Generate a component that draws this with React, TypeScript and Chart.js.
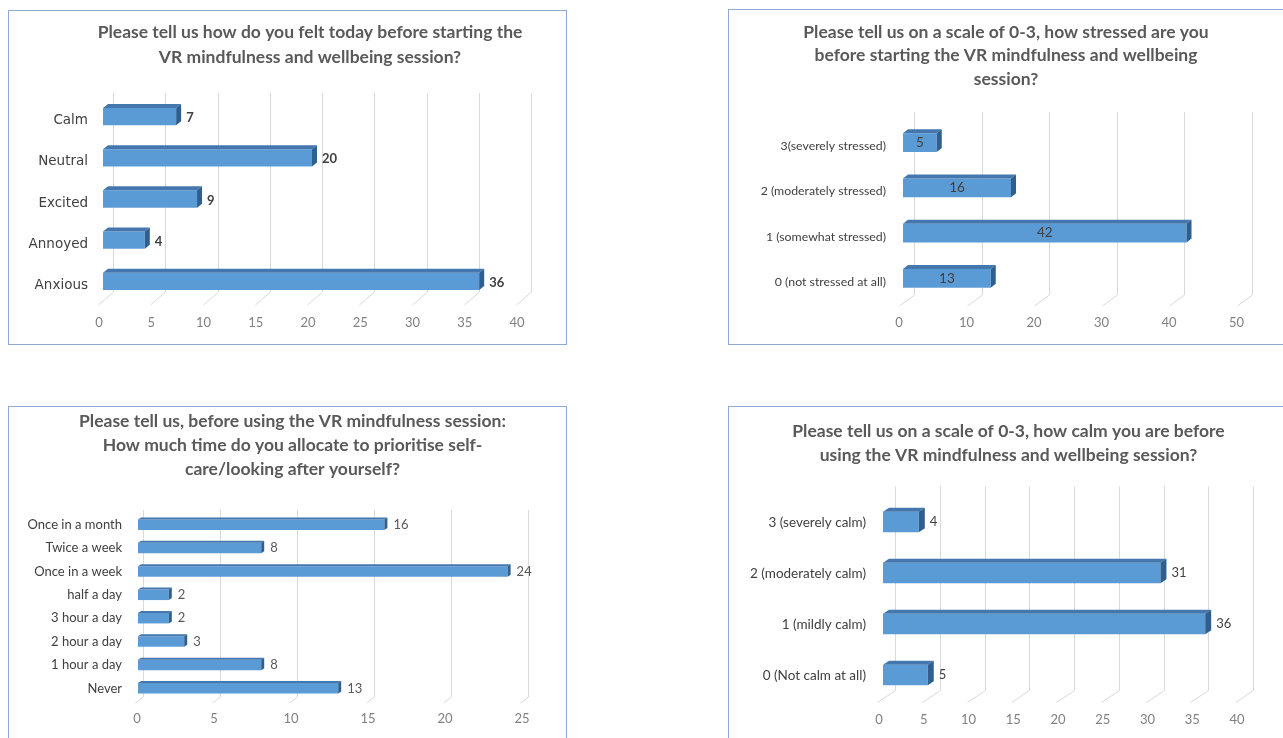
import React, { useEffect, useRef } from 'react';
import { Chart, registerables } from 'chart.js';

Chart.register(...registerables);

const FONT = 'Lato, "Noto Sans", sans-serif';
const WIDE_FONT = '"DejaVu Sans", Lato, sans-serif';

// ---------- Chart 1 data ----------
const feelTitle = ['Please tell us how do you felt today before starting the', 'VR mindfulness and wellbeing session?'];
const feelCategories = ['Calm', 'Neutral', 'Excited', 'Annoyed', 'Anxious'];
const feelValues = [7, 20, 9, 4, 36];
const feelAxisMax = 40;
const feelAxisStep = 5;

// ---------- Chart 2 data ----------
const stressTitle = ['Please tell us on a scale of 0-3, how stressed are you', 'before starting the VR mindfulness and wellbeing', 'session?'];
const stressCategories = ['3(severely stressed)', '2 (moderately stressed)', '1 (somewhat stressed)', '0 (not stressed at all)'];
const stressValues = [5, 16, 42, 13];
const stressAxisMax = 50;
const stressAxisStep = 10;

// ---------- Chart 3 data ----------
const careTitle = ['Please tell us, before using the VR mindfulness session:', 'How much time do you allocate to prioritise self-', 'care/looking after yourself?'];
const careCategories = ['Once in a month', 'Twice a week', 'Once in a week', 'half a day', '3 hour a day', '2 hour a day', '1 hour a day', 'Never'];
const careValues = [16, 8, 24, 2, 2, 3, 8, 13];
const careAxisMax = 25;
const careAxisStep = 5;

// ---------- Chart 4 data ----------
const calmTitle = ['Please tell us on a scale of 0-3, how calm you are before', 'using the VR mindfulness and wellbeing session?'];
const calmCategories = ['3 (severely calm)', '2 (moderately calm)', '1 (mildly calm)', '0 (Not calm at all)'];
const calmValues = [4, 31, 36, 5];
const calmAxisMax = 40;
const calmAxisStep = 5;

type Spec = {
  title: string[];
  labels: string[];
  values: number[];
  max: number;
  step: number;
  box: { left: number; top: number; width: number; height: number; b: [number, number, number, number] };
  area: { left: number; right: number; top: number; bottom: number };
  titleX: number;
  titleY: number;
  titleLine: number;
  catFont: string;
  catSize: number;
  catPad: number;
  catOffset: number;
  tickPad: number;
  tickShift: number;
  barPct: number;
  depth: { dx: number; dy: number };
  grid: { fx: number; fy: number; bx: number; by: number; top: number };
  label: { inside: boolean; size: number; bold: boolean; color: string; gap: number; dy: number };
};

const specs: Spec[] = [
  {
    title: feelTitle, labels: feelCategories, values: feelValues, max: feelAxisMax, step: feelAxisStep,
    box: { left: 8, top: 10, width: 559, height: 335, b: [1, 1, 1, 1] },
    area: { left: 103, right: 521, top: 96, bottom: 302 },
    titleX: 310, titleY: 32, titleLine: 25,
    catFont: WIDE_FONT, catSize: 13.5, catPad: 15, catOffset: 4, tickPad: 13, tickShift: -4, barPct: 0.42,
    depth: { dx: 5, dy: 4 },
    grid: { fx: 5, fy: 3, bx: 10, by: 10, top: 3 },
    label: { inside: false, size: 13, bold: true, color: '#404040', gap: 5, dy: 1.5 },
  },
  {
    title: stressTitle, labels: stressCategories, values: stressValues, max: stressAxisMax, step: stressAxisStep,
    box: { left: 728, top: 9, width: 555, height: 336, b: [1, 0, 1, 1] },
    area: { left: 903, right: 1240.5, top: 120, bottom: 301 },
    titleX: 1006, titleY: 32, titleLine: 23.5,
    catFont: FONT, catSize: 12.3, catPad: 17, catOffset: 3.5, tickPad: 14, tickShift: -4, barPct: 0.41,
    depth: { dx: 5, dy: 4 },
    grid: { fx: 4, fy: 5, bx: 11, by: 6, top: 8 },
    label: { inside: true, size: 13.5, bold: false, color: '#404040', gap: 0, dy: 0 },
  },
  {
    title: careTitle, labels: careCategories, values: careValues, max: careAxisMax, step: careAxisStep,
    box: { left: 8, top: 406, width: 559, height: 332, b: [1, 1, 0, 1] },
    area: { left: 138, right: 523, top: 513, bottom: 700 },
    titleX: 292.5, titleY: 421, titleLine: 24,
    catFont: FONT, catSize: 13, catPad: 16, catOffset: 0, tickPad: 11, tickShift: -1, barPct: 0.45,
    depth: { dx: 3, dy: 2 },
    grid: { fx: 3, fy: 3, bx: 5, by: 3, top: 3 },
    label: { inside: false, size: 13, bold: false, color: '#595959', gap: 6, dy: 0 },
  },
  {
    title: calmTitle, labels: calmCategories, values: calmValues, max: calmAxisMax, step: calmAxisStep,
    box: { left: 728, top: 406, width: 555, height: 332, b: [1, 0, 0, 1] },
    area: { left: 883, right: 1241, top: 496.5, bottom: 700.5 },
    titleX: 1008.5, titleY: 431, titleLine: 24,
    catFont: FONT, catSize: 13.5, catPad: 17, catOffset: 1, tickPad: 12, tickShift: -4, barPct: 0.4,
    depth: { dx: 6, dy: 4 },
    grid: { fx: 6, fy: 2, bx: 12, by: 10, top: 10 },
    label: { inside: false, size: 13, bold: false, color: '#404040', gap: 5, dy: 0 },
  },
];

function make3dPlugin(spec: Spec, titleCx: number) {
  return {
    id: 'bar3d',
    afterLayout(chart: any) {
      const tb = chart.titleBlock;
      if (tb) {
        const w = tb.right - tb.left;
        tb.left = titleCx - w / 2;
        tb.right = titleCx + w / 2;
      }
    },
    beforeDatasetsDraw(chart: any) {
      const { ctx, chartArea } = chart;
      const xs = chart.scales.x;
      const g = spec.grid;
      ctx.save();
      ctx.strokeStyle = '#D9D9D9';
      ctx.lineWidth = 1;
      xs.ticks.forEach((t: any) => {
        const px = Math.round(xs.getPixelForValue(t.value)) + 0.5;
        ctx.beginPath();
        ctx.moveTo(px - g.fx, chartArea.bottom + g.fy);
        ctx.lineTo(px + g.bx, chartArea.bottom - g.by);
        ctx.lineTo(px + g.bx, chartArea.top - g.top);
        ctx.stroke();
      });
      ctx.restore();
    },
    afterDatasetsDraw(chart: any) {
      const { ctx } = chart;
      const meta = chart.getDatasetMeta(0);
      const vals = chart.data.datasets[0].data as number[];
      const { dx, dy } = spec.depth;
      ctx.save();
      meta.data.forEach((bar: any, i: number) => {
        const p = bar.getProps(['x', 'y', 'base', 'height'], true);
        const top = p.y - p.height / 2;
        const bottom = p.y + p.height / 2;
        // top face
        ctx.fillStyle = '#4477AE';
        ctx.beginPath();
        ctx.moveTo(p.base, top);
        ctx.lineTo(p.base + dx, top - dy);
        ctx.lineTo(p.x + dx, top - dy);
        ctx.lineTo(p.x, top);
        ctx.closePath();
        ctx.fill();
        // side face
        ctx.fillStyle = '#2F5F8F';
        ctx.beginPath();
        ctx.moveTo(p.x, top);
        ctx.lineTo(p.x + dx, top - dy);
        ctx.lineTo(p.x + dx, bottom - dy);
        ctx.lineTo(p.x, bottom);
        ctx.closePath();
        ctx.fill();
        // value label
        const L = spec.label;
        ctx.fillStyle = L.color;
        ctx.font = `${L.bold ? 'bold ' : ''}${L.size}px ${FONT}`;
        ctx.textBaseline = 'middle';
        if (L.inside) {
          ctx.textAlign = 'center';
          ctx.fillText(String(vals[i]), (p.base + p.x) / 2, p.y + L.dy);
        } else {
          ctx.textAlign = 'left';
          ctx.fillText(String(vals[i]), p.x + dx + L.gap, p.y + L.dy);
        }
      });
      ctx.restore();
    },
  };
}

function Panel({ spec }: { spec: Spec }) {
  const ref = useRef<HTMLCanvasElement>(null);
  const [bt, br, bb, bl] = spec.box.b;
  const cw = spec.box.width - bl - br;
  const ch = spec.box.height - bt - bb;
  useEffect(() => {
    const cl = spec.box.left + bl;
    const ct = spec.box.top + bt;
    const aL = spec.area.left - cl;
    const aR = spec.area.right - cl;
    const aT = spec.area.top - ct;
    const aB = spec.area.bottom - ct;
    const L = spec.titleLine;
    const TS = 17.5;
    const n = spec.title.length;
    const pTop = spec.titleY - ct - L / 2;
    const pBot = aT - pTop - n * L;
    const padR = cw - aR;
    const cx = spec.titleX - cl;
    const chart = new Chart(ref.current as HTMLCanvasElement, {
      type: 'bar',
      data: {
        labels: spec.labels,
        datasets: [
          {
            data: spec.values,
            backgroundColor: '#5B9BD5',
            borderWidth: 0,
            barPercentage: spec.barPct,
            categoryPercentage: 1,
          },
        ],
      },
      options: {
        indexAxis: 'y',
        responsive: false,
        maintainAspectRatio: false,
        animation: false,
        layout: { padding: { left: 0, top: 0, bottom: 0, right: padR } },
        plugins: {
          legend: { display: false },
          tooltip: { enabled: false },
          title: {
            display: true,
            text: spec.title,
            fullSize: true,
            color: '#595959',
            font: { family: FONT, size: TS, weight: 'bold', lineHeight: L / TS },
            padding: { top: pTop, bottom: pBot },
          },
        },
        scales: {
          x: {
            type: 'linear',
            min: 0,
            max: spec.max,
            grid: { display: false, drawTicks: false },
            border: { display: false },
            ticks: {
              stepSize: spec.step,
              color: '#808080',
              font: { family: FONT, size: 13 },
              padding: spec.tickPad,
              labelOffset: spec.tickShift,
            },
            afterFit: (s: any) => {
              s.height = ch - aB;
            },
          },
          y: {
            grid: { display: false, drawTicks: false },
            border: { display: false },
            ticks: {
              color: '#404040',
              font: { family: spec.catFont, size: spec.catSize },
              padding: spec.catPad,
              labelOffset: spec.catOffset,
              autoSkip: false,
            },
            afterFit: (s: any) => {
              s.width = aL;
            },
          },
        },
      } as any,
      plugins: [make3dPlugin(spec, cx)],
    });
    return () => chart.destroy();
  }, []);
  return (
    <div
      style={{
        position: 'absolute',
        left: spec.box.left,
        top: spec.box.top,
        width: spec.box.width,
        height: spec.box.height,
        boxSizing: 'border-box',
        borderStyle: 'solid',
        borderColor: '#8EAAD0',
        borderWidth: `${bt}px ${br}px ${bb}px ${bl}px`,
        background: '#FFFFFF',
        overflow: 'hidden',
      }}
    >
      <canvas ref={ref} width={cw} height={ch} style={{ display: 'block', width: cw, height: ch }} />
    </div>
  );
}

export default function App() {
  return (
    <div>
      {specs.map((s, i) => (
        <Panel key={i} spec={s} />
      ))}
    </div>
  );
}
